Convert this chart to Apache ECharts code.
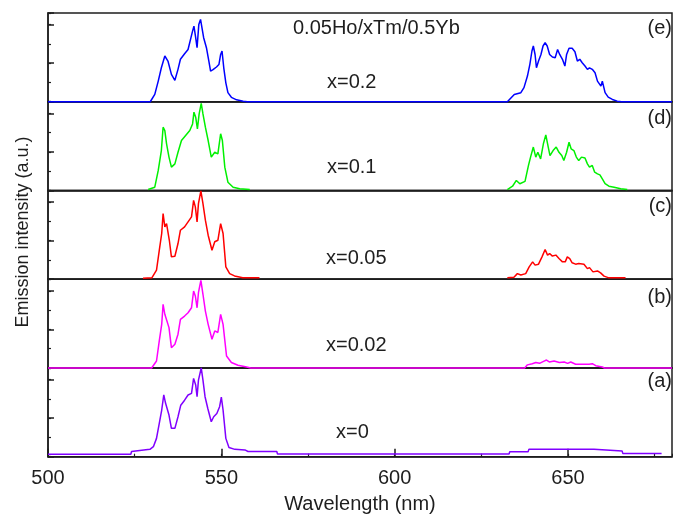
<!DOCTYPE html>
<html>
<head>
<meta charset="utf-8">
<script src="https://cdn.jsdelivr.net/npm/echarts@6/dist/echarts.min.js"></script>
<style>
  html, body { margin: 0; padding: 0; background: #fff; }
  #chart { width: 673px; height: 517px; }
</style>
</head>
<body>
<div id="chart"></div>
<script>
// Upconversion emission spectra, 0.05Ho/xTm/0.5Yb, stacked panels (e) .. (a)
// Each spectrum: [wavelength (nm), intensity (a.u.)]; null breaks the trace.

const xTicks = [500, 550, 600, 650];

const panelNames = ['(e)', '(d)', '(c)', '(b)', '(a)'];
const panelLabels = ['x=0.2', 'x=0.1', 'x=0.05', 'x=0.02', 'x=0'];

const specE = [
  [500, 0], [529.5, 0], [530.8, 0.38], [531.8, 1.07], [532.7, 1.76], [533.7, 2.37], [534.6, 2.11],
  [535.6, 1.42], [536.6, 1.11], [537.5, 1.68], [538.2, 2.2], [539.4, 2.49], [540.4, 2.71],
  [540.8, 2.79], [541.7, 3.66], [542.1, 3.92], [542.6, 3.32], [543.0, 2.8], [543.5, 4.0],
  [544.0, 4.27], [544.5, 4.2], [544.9, 3.32], [545.7, 2.8], [546.4, 2.11], [546.9, 1.59],
  [547.6, 1.66], [548.6, 1.8], [549.3, 1.93], [549.8, 2.45], [550.2, 2.63], [550.7, 1.76],
  [551.3, 0.98], [551.9, 0.47], [552.9, 0.23], [554.4, 0.1], [556.3, 0.03], [557.5, 0],
  [632.5, 0], [633.0, 0.03], [634.5, 0.38], [636.4, 0.47], [637.3, 0.73], [638.3, 1.33],
  [639.0, 1.94], [639.6, 2.63], [640.0, 2.89], [640.5, 2.45], [640.9, 1.76], [641.5, 2.11],
  [642.2, 2.45], [642.8, 2.89], [643.4, 3.06], [644.0, 2.89], [644.7, 2.45], [645.5, 2.32],
  [646.3, 2.28], [647.0, 2.71], [647.6, 2.45], [648.4, 2.2], [649.1, 1.85], [649.6, 2.45],
  [650.3, 2.77], [651.2, 2.77], [652.0, 2.59], [652.7, 2.11], [653.4, 2.2], [654.1, 2.02],
  [654.9, 1.85], [655.6, 1.68], [656.2, 1.76], [657.0, 1.68], [657.8, 1.5], [658.5, 1.07],
  [658.9, 1.16], [659.5, 0.81], [659.9, 1.07], [660.7, 0.47], [661.6, 0.24], [662.8, 0.12],
  [664.2, 0.03], [665.5, 0], [680, 0]
];

const specD = [
  [528.9, 0.05], [530.8, 0.17], [531.8, 1.04], [532.7, 2.07], [533.2, 3.28], [533.7, 3.1],
  [534.2, 2.42], [534.9, 1.73], [535.6, 1.21], [536.6, 1.38], [537.5, 1.98], [538.5, 2.59],
  [539.7, 2.85], [540.9, 3.11], [541.7, 3.45], [542.1, 4.06], [542.6, 3.8], [543.1, 3.19],
  [543.6, 3.97], [544.2, 4.52], [544.7, 3.97], [545.4, 3.28], [546.2, 2.59], [547.1, 1.73],
  [548.1, 1.98], [549.0, 1.9], [549.8, 2.94], [550.3, 2.59], [551.0, 1.21], [551.9, 0.43],
  [553.4, 0.17], [555.3, 0.09], [558.2, 0.05], [595, null],
  [632.5, 0.05], [634.0, 0.22], [635.1, 0.52], [636.1, 0.35], [637.6, 0.47], [638.6, 1.3],
  [639.2, 1.73], [640.0, 2.25], [640.7, 1.73], [641.3, 1.98], [642.1, 1.64], [642.9, 2.42],
  [643.6, 2.88], [644.3, 2.25], [644.8, 1.81], [645.7, 2.07], [646.6, 2.25], [647.4, 1.98],
  [648.2, 1.81], [648.8, 1.55], [649.6, 1.98], [650.3, 2.5], [650.9, 2.16], [651.7, 2.07],
  [652.4, 1.73], [653.1, 1.55], [653.9, 1.73], [654.9, 1.68], [655.6, 1.38], [656.2, 1.21],
  [657.0, 1.3], [657.7, 0.95], [658.5, 0.86], [659.2, 0.81], [659.9, 0.6], [660.7, 0.35],
  [661.8, 0.22], [663.3, 0.17], [665.2, 0.09], [667.1, 0.05]
];

const specC = [
  [527.4, 0.05], [530.0, 0.08], [531.3, 0.47], [532.1, 1.5], [532.8, 2.37], [533.2, 3.4],
  [533.7, 2.71], [534.2, 2.88], [535.0, 2.02], [535.6, 1.16], [536.6, 1.19], [537.5, 1.85],
  [538.2, 2.54], [539.4, 2.71], [540.4, 2.97], [541.4, 3.23], [542.0, 4.09], [542.5, 3.75],
  [543.0, 2.97], [543.4, 3.92], [544.1, 4.58], [544.7, 3.92], [545.4, 3.06], [546.2, 2.28],
  [547.3, 1.5], [548.1, 1.94], [549.0, 2.02], [549.8, 2.88], [550.5, 2.37], [551.3, 0.64],
  [552.4, 0.29], [553.8, 0.17], [556.2, 0.08], [561.0, 0.07], [595, null],
  [632.5, 0.07], [634.4, 0.1], [635.4, 0.29], [636.4, 0.22], [637.8, 0.29], [638.8, 0.64],
  [639.8, 0.9], [640.5, 0.73], [641.5, 0.78], [642.5, 1.16], [643.4, 1.54], [644.1, 1.25],
  [644.7, 1.33], [645.5, 1.2], [646.5, 1.25], [647.4, 1.07], [648.4, 0.9], [649.2, 0.9],
  [649.8, 1.16], [650.5, 1.07], [651.2, 0.85], [652.2, 0.78], [653.1, 0.81], [654.6, 0.78],
  [655.6, 0.55], [656.2, 0.6], [657.2, 0.38], [658.5, 0.43], [659.4, 0.33], [660.4, 0.16],
  [661.8, 0.07], [666.6, 0.07]
];

const specB = [
  [500, 0], [529.9, 0], [531.3, 0.36], [532.1, 1.4], [532.8, 2.26], [533.2, 3.3], [533.7, 2.78],
  [534.2, 2.86], [534.9, 2.09], [535.6, 1.05], [536.6, 1.23], [537.5, 1.75], [538.2, 2.52],
  [539.4, 2.69], [540.4, 2.86], [541.4, 3.12], [542.0, 3.99], [542.5, 3.73], [543.0, 3.12],
  [543.4, 3.9], [544.1, 4.54], [544.7, 3.82], [545.4, 2.95], [546.2, 2.26], [547.3, 1.49],
  [548.1, 1.92], [549.0, 1.84], [549.8, 2.78], [550.5, 2.26], [551.5, 0.62], [552.9, 0.28],
  [554.8, 0.14], [557.3, 0.05], [558.5, 0], [637.5, 0], [638.3, 0.16], [639.7, 0.22],
  [640.7, 0.28], [641.8, 0.24], [642.8, 0.33], [643.8, 0.41], [644.6, 0.31], [646.0, 0.36],
  [647.5, 0.28], [648.9, 0.31], [649.9, 0.24], [650.8, 0.31], [652.2, 0.19], [654.2, 0.19],
  [656.1, 0.19], [657.0, 0.22], [658.0, 0.12], [659.9, 0.05], [660.5, 0], [680, 0]
];

const specA = [
  [500, 0.13], [523.9, 0.13], [524.1, 0.27], [529.4, 0.38], [530.4, 0.52], [531.3, 0.95],
  [532.1, 1.73], [532.8, 2.42], [533.4, 3.2], [533.9, 2.78], [534.3, 2.85], [534.9, 2.16],
  [535.6, 1.47], [536.6, 1.47], [537.5, 2.07], [538.3, 2.67], [539.4, 2.93], [540.4, 3.2],
  [541.4, 3.28], [542.0, 4.06], [542.6, 3.72], [543.0, 3.11], [543.4, 3.97], [544.2, 4.6],
  [544.7, 3.97], [545.3, 3.11], [546.1, 2.5], [547.1, 1.81], [547.8, 2.07], [548.7, 2.24],
  [549.5, 2.59], [550.0, 3.09], [550.5, 2.42], [551.3, 0.95], [552.2, 0.48], [553.9, 0.38],
  [556.8, 0.35], [557.7, 0.27], [566.0, 0.27], [566.2, 0.14], [633.0, 0.14], [633.2, 0.26],
  [638.5, 0.26], [638.7, 0.38], [643.5, 0.38], [643.7, 0.46], [644.0, 0.38], [650.1, 0.38],
  [650.3, 0.44], [650.6, 0.38], [657.5, 0.38], [657.7, 0.3], [665.6, 0.3], [665.8, 0.17],
  [677.0, 0.17]
];

const spectra = [specE, specD, specC, specB, specA];
const colors = ['#0000ff', '#00f000', '#ff0000', '#ff00ff', '#8000ff'];

// ---- layout ----
const FONT = '"Liberation Sans", Arial, sans-serif';
const INK = '#1e1e1e';
const plotTop = 13, plotBottom = 456.7, plotLeft = 48, plotRight = 1;
const n = spectra.length;
const panelH = (plotBottom - plotTop) / n;
const yMax = 4.6;

const grid = [], xAxis = [], yAxis = [], series = [];
for (let i = 0; i < n; i++) {
  const last = i === n - 1;
  grid.push({
    left: plotLeft, right: plotRight, top: plotTop + i * panelH, height: panelH,
    show: true, borderColor: INK, borderWidth: 1.5, backgroundColor: 'transparent'
  });
  xAxis.push({
    gridIndex: i, type: 'value', min: 500, max: 680, interval: 50,
    axisLine: { show: true, onZero: false, lineStyle: { color: INK, width: 1.5 } },
    axisTick: { show: last, inside: true, length: 8, lineStyle: { color: INK, width: 1.5 } },
    axisLabel: {
      show: last, margin: 12, color: INK, fontFamily: FONT, fontSize: 20,
      showMaxLabel: false,
      formatter: v => (xTicks.indexOf(v) >= 0 ? String(v) : '')
    },
    splitLine: { show: false },
    name: last ? 'Wavelength (nm)' : '',
    nameLocation: 'middle', nameGap: 38,
    nameTextStyle: { color: INK, fontFamily: FONT, fontSize: 20 }
  });
  yAxis.push({
    gridIndex: i, type: 'value', min: 0, max: yMax, interval: 2,
    axisLine: { show: true, lineStyle: { color: INK, width: 1.5 } },
    axisTick: { show: true, inside: true, length: 6, lineStyle: { color: INK, width: 1.5 } },
    axisLabel: { show: false }, splitLine: { show: false }
  });
}
// short ticks: odd steps on the y axes, 25 nm steps on the wavelength axis
for (let i = 0; i < n; i++) {
  yAxis.push({
    gridIndex: i, type: 'value', min: 0, max: yMax, interval: 1, position: 'left',
    axisLine: { show: false },
    axisTick: { show: true, inside: true, length: 3, lineStyle: { color: INK, width: 1.2 } },
    axisLabel: { show: false }, splitLine: { show: false }
  });
}
xAxis.push({
  gridIndex: n - 1, type: 'value', min: 500, max: 680, interval: 25, position: 'bottom',
  axisLine: { show: false },
  axisTick: { show: true, inside: true, length: 3, lineStyle: { color: INK, width: 1.2 } },
  axisLabel: { show: false }, splitLine: { show: false }
});

for (let i = 0; i < n; i++) {
  series.push({
    type: 'line', xAxisIndex: i, yAxisIndex: i, data: spectra[i],
    showSymbol: false, connectNulls: false, clip: false, z: 5,
    lineStyle: { color: colors[i], width: 1.5 }, itemStyle: { color: colors[i] }
  });
}

// ---- annotations ----
const textStyle = (extra) => Object.assign({ fill: INK, font: '19px ' + FONT, textVerticalAlign: 'middle' }, extra);
const graphic = [
  { type: 'text', x: 23, y: 232, rotation: Math.PI / 2,
    style: textStyle({ text: 'Emission intensity (a.u.)', font: '18px ' + FONT, textAlign: 'center' }) },
  { type: 'text', x: 293, y: 28, style: textStyle({ text: '0.05Ho/xTm/0.5Yb', font: '20px ' + FONT }) }
];
const nameY = [28, 118, 206, 297, 381];
const labelX = [327, 327, 326, 326, 336];
const labelY = [82, 167, 258, 345, 432];
for (let i = 0; i < n; i++) {
  graphic.push({ type: 'text', x: 672, y: nameY[i], style: textStyle({ text: panelNames[i], textAlign: 'right', font: '20px ' + FONT }) });
  graphic.push({ type: 'text', x: labelX[i], y: labelY[i], style: textStyle({ text: panelLabels[i], font: '20px ' + FONT }) });
}

const chart = echarts.init(document.getElementById('chart'), null, { renderer: 'canvas' });
chart.setOption({
  animation: false,
  backgroundColor: '#ffffff',
  grid, xAxis, yAxis, series, graphic
});
</script>
</body>
</html>
